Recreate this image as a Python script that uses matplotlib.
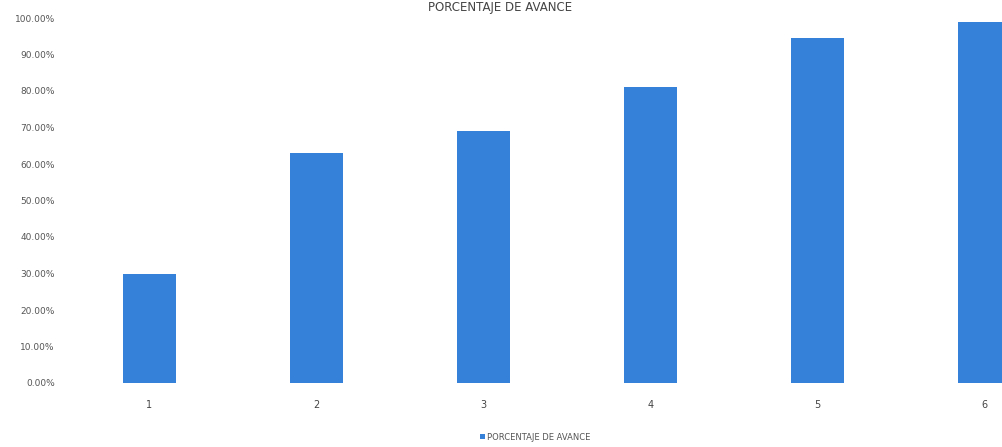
import numpy as np
import matplotlib.pyplot as plt
from matplotlib.ticker import PercentFormatter

categorias = ["1", "2", "3", "4", "5", "6"]
avance = [0.30, 0.63, 0.69, 0.81, 0.945, 0.99]
titulo = "PORCENTAJE DE AVANCE"

fig = plt.figure(figsize=(10.03, 4.47), dpi=100)
ax = fig.add_axes([66 / 1003, 64 / 447, 1002 / 1003, 365 / 447])

x = np.arange(len(categorias))
ax.bar(x, avance, width=0.32, color="#3580d8", label=titulo)

ax.set_xlim(-0.5, len(categorias) - 0.5)
ax.set_ylim(0, 1.0)
ax.set_yticks(np.arange(0, 1.01, 0.1))
ax.yaxis.set_major_formatter(PercentFormatter(1.0, decimals=2))
ax.set_xticks(x)
ax.set_xticklabels(categorias)
ax.tick_params(axis="y", length=0, labelsize=6.5, labelcolor="#555555", pad=8)
ax.tick_params(axis="x", length=0, labelsize=7, labelcolor="#444444", pad=12)
for s in ax.spines.values():
    s.set_visible(False)

# titulo arriba, pegado al borde como en el escaneo
fig.text(500 / 1003, 1 - 1 / 447, titulo, ha="center", va="top",
         fontsize=8.5, color="#444444")
fig.legend(loc="center", bbox_to_anchor=(535 / 1003, 10 / 447), frameon=False,
           fontsize=6, labelcolor="#555555", handlelength=0.6, handleheight=0.6,
           handletextpad=0.3)

fig.savefig("out.png", dpi=100)
